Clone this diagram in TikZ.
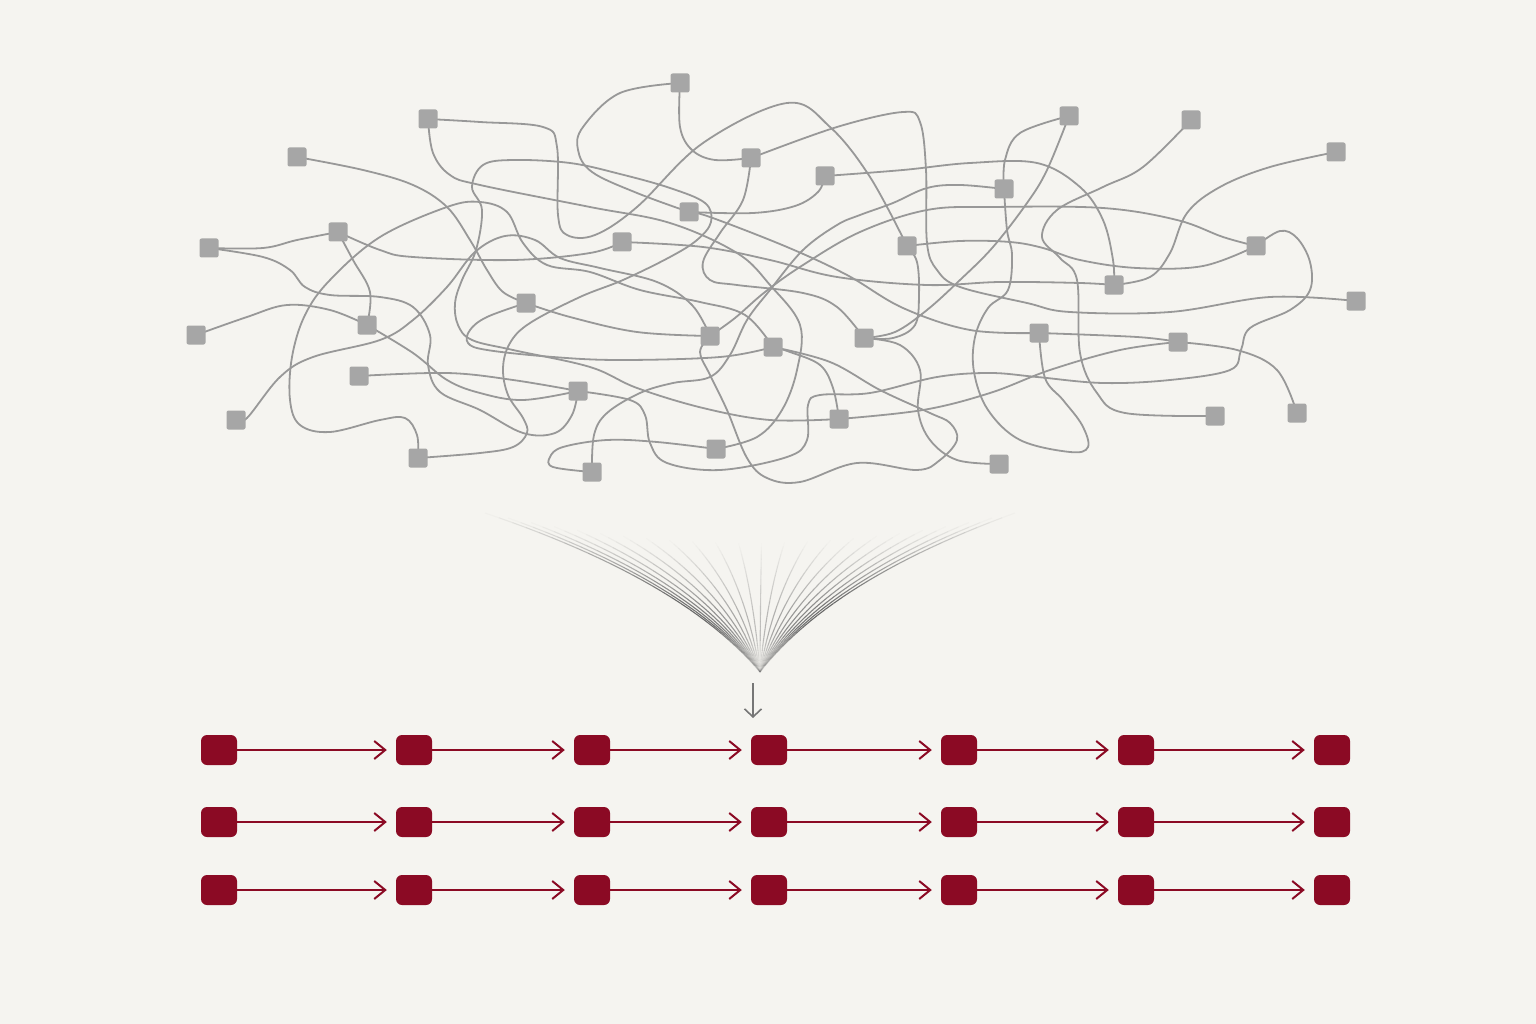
\documentclass[tikz,border=0pt]{standalone}
\usetikzlibrary{arrows.meta}
\definecolor{bgc}{RGB}{245,244,240}
\definecolor{linec}{RGB}{152,152,152}
\definecolor{sqc}{RGB}{166,166,166}
\definecolor{redc}{RGB}{139,10,36}
\definecolor{arrc}{RGB}{118,118,118}
\definecolor{func}{RGB}{105,105,105}
\tikzset{
  tline/.style={draw=linec, line width=1.8pt, line cap=round, line join=round},
  gsq/.style={rectangle, fill=sqc, minimum size=19pt, inner sep=0pt, rounded corners=2pt},
  rsq/.style={rectangle, fill=redc, minimum width=36pt, minimum height=30pt, inner sep=0pt, rounded corners=6pt},
  rarrow/.style={draw=redc, line width=2pt, -{Straight Barb[length=11pt,width=18pt]}, shorten >=9pt},
  funseg/.style={draw=func, line width=1.1pt, line cap=butt},
  downarr/.style={draw=arrc, line width=1.6pt, -{Straight Barb[length=8pt,width=17pt]}},
  sm/.style={smooth, tension=0.6}
}
\begin{document}
\begin{tikzpicture}[x=1pt,y=-1pt]
\fill[bgc] (0,0) rectangle (1536,1024);
\useasboundingbox (0,0) rectangle (1536,1024);
% square positions
\coordinate (c1) at (680,83);
\coordinate (c2) at (428,119);
\coordinate (c3) at (297,157);
\coordinate (c4) at (751,158);
\coordinate (c5) at (825,176);
\coordinate (c6) at (1069,116);
\coordinate (c7) at (1191,120);
\coordinate (c8) at (1336,152);
\coordinate (c9) at (1004,189);
\coordinate (c10) at (689,212);
\coordinate (c11) at (209,248);
\coordinate (c12) at (338,232);
\coordinate (c13) at (622,242);
\coordinate (c14) at (907,246);
\coordinate (c15) at (1256,246);
\coordinate (c16) at (1114,285);
\coordinate (c17) at (1356,301);
\coordinate (c18) at (526,303);
\coordinate (c19) at (196,335);
\coordinate (c20) at (367,325);
\coordinate (c21) at (710,336);
\coordinate (c22) at (773,347);
\coordinate (c23) at (864,338);
\coordinate (c24) at (1039,333);
\coordinate (c25) at (1178,342);
\coordinate (c26) at (359,376);
\coordinate (c27) at (578,391);
\coordinate (c28) at (236,420);
\coordinate (c29) at (839,419);
\coordinate (c30) at (1215,416);
\coordinate (c31) at (1297,413);
\coordinate (c32) at (418,458);
\coordinate (c33) at (716,449);
\coordinate (c34) at (592,472);
\coordinate (c35) at (999,464);
% tangled connectors
\draw[tline] plot[sm] coordinates {(c2) (480,122) (543,127) (557,147) (558,215) (567,235) (595,235) (637,207) (703,143) (787,103) (830,127) (870,177) (c14)};
\draw[tline] plot[sm] coordinates {(c1) (620,93) (583,127) (578,150) (592,172) (637,193) (c10)};
\draw[tline] plot[sm] coordinates {(c1) (680,127) (692,150) (715,160) (c4)};
\draw[tline] plot[sm] coordinates {(c4) (837,127) (903,112) (920,122) (926,170) (927,243) (937,270) (960,287) (1027,303) (1070,312) (1170,312) (1270,297) (c17)};
\draw[tline] plot[sm] coordinates {(c4) (743,200) (720,233) (703,262) (710,280) (737,285) (803,293) (837,307) (c23)};
\draw[tline] plot[sm] coordinates {(c5) (818,192) (795,206) (753,213) (c10)};
\draw[tline] plot[sm] coordinates {(c5) (903,170) (970,163) (1037,163) (1080,187) (1103,220) (1113,260) (c16)};
\draw[tline] plot[sm] coordinates {(c6) (1020,133) (1005,160) (c9)};
\draw[tline] plot[sm] coordinates {(c6) (1047,170) (1027,203) (993,247) (960,280) (927,310) (895,332) (c23)};
\draw[tline] plot[sm] coordinates {(c7) (1143,167) (1103,187) (1057,210) (1042,237) (1060,258) (1077,280) (1080,353) (1097,393) (1125,413) (c30)};
\draw[tline] plot[sm] coordinates {(c8) (1270,167) (1220,187) (1187,213) (1170,253) (1150,277) (c16)};
\draw[tline] plot[sm] coordinates {(c34) (594,435) (607,413) (640,393) (673,383) (710,377) (730,355) (747,320) (770,290) (803,250) (837,225) (860,215) (893,203) (927,188) (960,185) (c9)};
\draw[tline] plot[sm] coordinates {(c9) (1007,230) (1012,255) (1008,290) (988,308) (975,337) (974,372) (988,410) (1020,440) (1070,452) (1088,447) (1082,425) (1063,400) (1045,378) (c24)};
\draw[tline] plot[sm] coordinates {(c14) (960,241) (1010,242) (1043,248) (1080,260) (1137,268) (1203,266) (c15)};
\draw[tline] plot[sm] coordinates {(c14) (917,262) (919,295) (915,325) (893,338) (c23)};
\draw[tline] plot[sm] coordinates {(c15) (1223,237) (1177,220) (1103,208) (993,207) (927,210) (860,232) (803,265) (765,292) (735,318) (c21)};
\draw[tline] plot[sm] coordinates {(c27) (630,400) (645,415) (650,443) (667,463) (720,470) (787,457) (807,440) (808,405) (820,395) (870,393) (937,377) (990,373) (1037,377) (1103,383) (1170,380) (1230,370) (1241,350) (1250,328) (1290,310) (1310,290) (1310,262) (1297,238) (1280,231) (c15)};
\draw[tline] plot[sm] coordinates {(c22) (790,352) (820,365) (833,388) (c29)};
\draw[tline] plot[sm] coordinates {(c3) (363,170) (413,185) (447,207) (470,240) (487,270) (503,292) (c18)};
\draw[tline] plot[sm] coordinates {(c11) (263,248) (297,240) (c12)};
\draw[tline] plot[sm] coordinates {(c11) (263,257) (290,270) (305,287) (330,295) (380,297) (413,307) (430,335) (428,365) (440,392) (480,410) (523,433) (555,433) (572,415) (c27)};
\draw[tline] plot[sm] coordinates {(c12) (380,250) (413,257) (513,260) (590,253) (c13)};
\draw[tline] plot[sm] coordinates {(c12) (353,260) (370,292) (c20)};
\draw[tline] plot[sm] coordinates {(c32) (417,435) (405,418) (380,420) (330,432) (300,425) (290,400) (292,357) (305,315) (330,280) (380,237) (447,207) (480,202) (507,212) (523,243) (547,265) (590,272) (640,290) (700,302) (745,315) (c22)};
\draw[tline] plot[sm] coordinates {(c32) (480,453) (513,447) (527,433) (523,418) (508,395) (503,368) (510,343) (530,323) (580,297) (623,280) (670,257) (697,240) (711,222) (705,203) (670,188) (620,174) (570,163) (513,160) (483,165) (472,187) (482,210) (476,250) (462,280) (455,303) (458,325) (472,340) (513,350) (590,367) (637,388) (703,408) (770,420) (c29)};
\draw[tline] plot[sm] coordinates {(c19) (247,317) (287,305) (330,310) (c20)};
\draw[tline] plot[sm] coordinates {(c20) (413,353) (447,380) (480,393) (523,400) (c27)};
\draw[tline] plot[sm] coordinates {(c26) (447,373) (513,380) (c27)};
\draw[tline] plot[sm] coordinates {(c28) (247,418) (280,377) (313,357) (380,340) (413,320) (447,287) (475,252) (505,236) (535,240) (560,258) (600,268) (657,282) (692,305) (c21)};
\draw[tline] plot[sm] coordinates {(c2) (433,153) (450,175) (480,185) (590,207) (670,223) (737,253) (770,285) (800,325) (797,370) (782,410) (757,437) (c33)};
\draw[tline] plot[sm] coordinates {(c23) (900,345) (920,370) (918,410) (930,440) (957,460) (c35)};
\draw[tline] plot[sm] coordinates {(c21) (700,352) (710,375) (727,410) (747,458) (767,478) (800,482) (857,463) (917,470) (940,460) (957,440) (950,423) (930,413) (880,390) (830,362) (c22)};
\draw[tline] plot[sm] coordinates {(c34) (553,467) (550,457) (563,447) (607,440) (657,442) (c33)};
\draw[tline] plot[sm] coordinates {(c10) (710,217) (787,247) (847,275) (903,308) (970,330) (c24)};
\draw[tline] plot[sm] coordinates {(c13) (703,247) (770,260) (837,277) (927,285) (1000,282) (1080,283) (c16)};
\draw[tline] plot[sm] coordinates {(c24) (1137,337) (c25)};
\draw[tline] plot[sm] coordinates {(c25) (1237,350) (1277,370) (c31)};
\draw[tline] plot[sm] coordinates {(c29) (923,410) (990,393) (1050,370) (1120,350) (c25)};
\draw[tline] plot[sm] coordinates {(c18) (570,317) (637,332) (c21)};
\draw[tline] plot[sm] coordinates {(c18) (487,317) (470,330) (468,343) (487,350) (553,357) (620,360) (720,357) (c22)};
% gray squares on top
\foreach \i in {1,...,35} { \node[gsq] (g\i) at (c\i) {}; }
% funnel: quadratic curves drawn in segments with varying opacity
\foreach \i in {0,...,23} {
  \pgfmathsetmacro\tt{\i/23}
  \pgfmathsetmacro\xo{485+530*\tt}
  \pgfmathsetmacro\yo{513+30*(1-(2*\tt-1)^2)}
  \pgfmathsetmacro\cx{760+(\xo-760)*0.28}
  \pgfmathsetmacro\cy{\yo+0.42*(672-\yo)}
  \pgfmathsetmacro\op{0.35+0.65*abs(2*\tt-1)}
  \foreach \k in {0,...,27} {
    \pgfmathsetmacro\sa{\k/28}
    \pgfmathsetmacro\sb{(\k+1)/28}
    \pgfmathsetmacro\smid{(\k+0.5)/28}
    \pgfmathsetmacro\xa{(1-\sa)^2*\xo+2*\sa*(1-\sa)*\cx+\sa^2*760}
    \pgfmathsetmacro\ya{(1-\sa)^2*\yo+2*\sa*(1-\sa)*\cy+\sa^2*672}
    \pgfmathsetmacro\xb{(1-\sb)^2*\xo+2*\sb*(1-\sb)*\cx+\sb^2*760}
    \pgfmathsetmacro\yb{(1-\sb)^2*\yo+2*\sb*(1-\sb)*\cy+\sb^2*672}
    \pgfmathsetmacro\g{\op*min(1,\smid/0.6)*(1-0.92*max(0,(\smid-0.75)/0.25))}
    \draw[funseg, draw opacity=\g] (\xa,\ya) -- (\xb,\yb);
  }
}
\coordinate (da) at (753,683);
\coordinate (db) at (753,718);
\draw[downarr] (da) -- (db);
% red chains
\foreach \y [count=\r] in {750,822,890} {
  \foreach \x [count=\c] in {219,414,592,769,959,1136,1332} {
    \node[rsq] (r\r-\c) at (\x,\y) {};
  }
}
\foreach \r in {1,2,3} {
  \foreach \c [evaluate=\c as \n using int(\c+1)] in {1,...,6} {
    \draw[rarrow] (r\r-\c) -- (r\r-\n);
  }
}
\end{tikzpicture}
\end{document}
